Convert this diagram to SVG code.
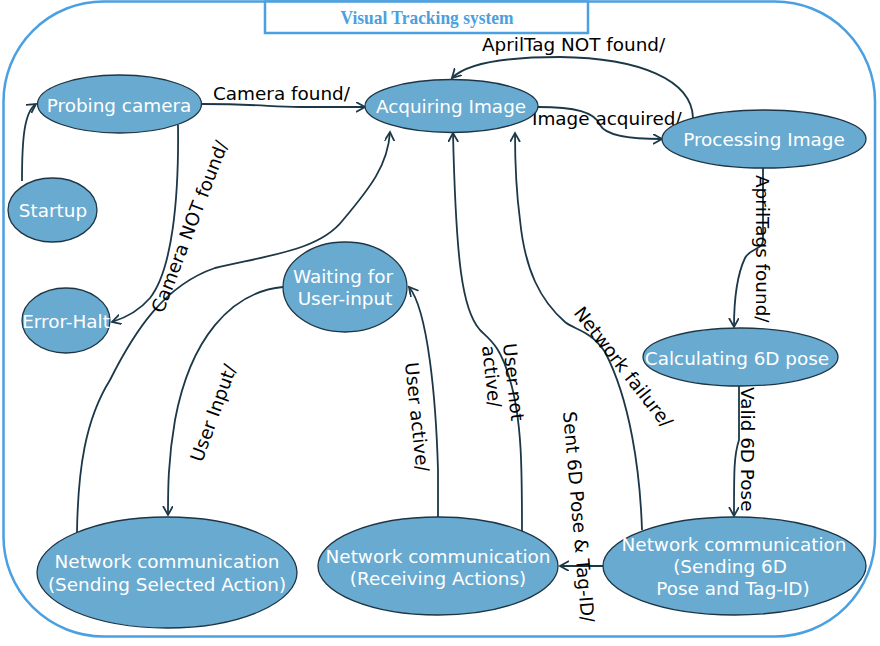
<svg xmlns="http://www.w3.org/2000/svg" width="880" height="646" viewBox="0 0 880 646">
<defs>
<style>
.frame{fill:none;stroke:#4aa0e0;stroke-width:2.5}
.node ellipse{fill:#69aad0;stroke:#1d3545;stroke-width:1.3}
.node text{font-family:"DejaVu Sans",Verdana,sans-serif;font-size:18.4px;fill:#ffffff;text-anchor:middle}
.lbl{font-family:"DejaVu Sans",Verdana,sans-serif;font-size:18.4px;fill:#000000}
.edge{fill:none;stroke:#1c3848;stroke-width:1.8;marker-end:url(#arr)}
.title{font-family:"Liberation Serif","Times New Roman",serif;font-weight:bold;font-size:19px;fill:#4aa0e0;text-anchor:middle}
</style>
<marker id="arr" markerUnits="userSpaceOnUse" markerWidth="12" markerHeight="12" refX="9" refY="5" orient="auto">
<path d="M0,0 L9,5 L0,10" fill="none" stroke="#1c3848" stroke-width="1.8"/>
</marker>
</defs>
<rect x="0" y="0" width="880" height="646" fill="#ffffff"/>
<rect class="frame" x="3.5" y="1.5" width="871.5" height="635" rx="100" ry="100"/>
<g id="title">
<rect x="265" y="1.5" width="323" height="31.5" fill="#ffffff" stroke="#4aa0e0" stroke-width="2.5"/>
<text class="title" x="427" y="24" textLength="173" lengthAdjust="spacingAndGlyphs">Visual Tracking system</text>
</g>
<g id="connectors">
<path class="edge" d="M22,181 C22,140 24,112 36,104"/>
<path class="edge" d="M202,104 C260,104 270,107 300,107 L365,107"/>
<path class="edge" d="M178,125 C179,200 172,270 150,298 C138,312 125,318 112,322"/>
<path class="edge" d="M77,532 C78,470 85,420 110,380 C135,330 165,285 215,268 C270,255 320,250 343,220 C370,188 388,165 390,132"/>
<path class="edge" d="M283,287 C230,292 190,340 175,420 C168,460 168,490 168,515"/>
<path class="edge" d="M438,517 L438,470 C436,400 428,310 409,287"/>
<path class="edge" d="M522,532 C522,470 522,420 510,380 C500,345 490,340 480,330 C462,310 456,260 453,133"/>
<path class="edge" d="M642,530 C640,470 630,400 605,352 C590,330 575,330 565,322 C540,300 525,270 520,220 C516,190 515,160 515,133"/>
<path class="edge" d="M538,107 C575,107 595,112 600,125 C606,136 630,139 662,139"/>
<path class="edge" d="M693,118 C692,80 640,58 560,57 C500,57 465,65 452,78"/>
<path class="edge" d="M763,168 L763,240 C763,250 750,248 745,258 C737,275 734,300 734,327"/>
<path class="edge" d="M739,386 L739,440 C734,455 734,470 734,516"/>
<path class="edge" d="M603,566 L560,566"/>
<text class="lbl" x="213" y="100">Camera found/</text>
<text class="lbl" x="482" y="51">AprilTag NOT found/</text>
<text class="lbl" x="532" y="125">Image acquired/</text>
<text class="lbl" x="163" y="314" transform="rotate(-69 163 314)">Camera NOT found/</text>
<text class="lbl" x="202" y="463" transform="rotate(-70 202 463)">User Input/</text>
<text class="lbl" x="405" y="363" transform="rotate(84 405 363)">User active/</text>
<text class="lbl" x="503" y="344" transform="rotate(84 503 344)">User not<tspan x="503" dy="21">active/</tspan></text>
<text class="lbl" x="573" y="313" transform="rotate(52 573 313)">Network failure/</text>
<text class="lbl" x="756" y="175" transform="rotate(90 756 175)">AprilTags found/</text>
<text class="lbl" x="741" y="387" transform="rotate(90 741 387)">Valid 6D Pose</text>
<text class="lbl" x="563" y="412" transform="rotate(85 563 412)">Sent 6D Pose &amp; Tag-ID/</text>
</g>
<g id="startup" class="node"><ellipse cx="52.5" cy="210" rx="44.5" ry="32"/><text x="53" y="217">Startup</text></g>
<g id="probing" class="node"><ellipse cx="119.5" cy="104" rx="82" ry="29"/><text x="119" y="112">Probing camera</text></g>
<g id="errorhalt" class="node"><ellipse cx="66" cy="320.5" rx="44" ry="32.5"/><text x="66" y="328">Error-Halt</text></g>
<g id="acquiring" class="node"><ellipse cx="451.5" cy="106" rx="86.5" ry="26.5"/><text x="451" y="113">Acquiring Image</text></g>
<g id="processing" class="node"><ellipse cx="764" cy="139" rx="102" ry="29"/><text x="764" y="146">Processing Image</text></g>
<g id="waiting" class="node"><ellipse cx="345" cy="287" rx="62" ry="45"/><text x="343" y="283">Waiting for</text><text x="345" y="305">User-input</text></g>
<g id="calculating" class="node"><ellipse cx="740.5" cy="357" rx="97.5" ry="29"/><text x="737" y="365">Calculating 6D pose</text></g>
<g id="sendaction" class="node"><ellipse cx="167" cy="572.5" rx="130" ry="55.5"/><text x="167" y="568">Network communication</text><text x="167" y="591">(Sending Selected Action)</text></g>
<g id="receiving" class="node"><ellipse cx="438" cy="566" rx="120" ry="49"/><text x="438" y="563">Network communication</text><text x="438" y="585">(Receiving Actions)</text></g>
<g id="sendpose" class="node"><ellipse cx="734.5" cy="566" rx="131.5" ry="49"/><text x="734" y="551">Network communication</text><text x="730" y="573">(Sending 6D</text><text x="733" y="595">Pose and Tag-ID)</text></g>
</svg>
